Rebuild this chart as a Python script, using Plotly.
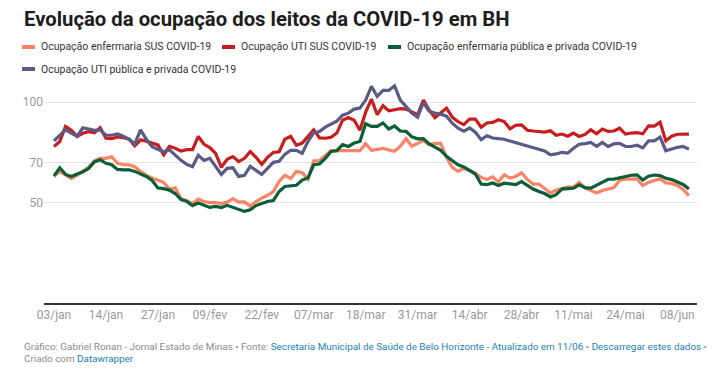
import plotly.graph_objects as go

tick_labels = ["03/jan", "14/jan", "27/jan", "09/fev", "22/fev", "07/mar", "18/mar",
               "31/mar", "14/abr", "28/abr", "11/mai", "24/mai", "08/jun"]

enf_sus = [63, 65.5, 63.8, 62, 63.5, 65.5, 67.5, 70.8, 72, 72,
           72.8, 69.5, 68.8, 68.8, 67.8, 65.5, 63.5, 62.2, 61, 60,
           56.7, 57.3, 52, 51, 49.5, 51.7, 50.5, 50, 50, 49.5,
           50.2, 51.9, 50.2, 50.3, 48.2, 50.5, 52.2, 53.6, 55.5, 60.5,
           63.6, 62, 65.5, 64.8, 61.7, 70.8, 70.9, 73.5, 75.8, 75.8,
           75.8, 75.8, 75.8, 75.8, 79.3, 76, 76.5, 77, 76.2, 75.5,
           78, 81.8, 78, 79.5, 80.8, 78.8, 79.5, 79.5, 72.5, 67.5,
           65.5, 67, 66, 64.5, 62.5, 61.5, 62.8, 60.3, 63.8, 62.2,
           63, 64.8, 61.5, 59.2, 59.2, 57, 54.7, 56.2, 57, 57.7,
           57.7, 60, 57.3, 56, 54.8, 56, 56.6, 57.5, 61, 61.7,
           61.7, 61.7, 58.5, 60, 61, 61.8, 59.8, 59.5, 58.5, 56.5,
           53.4]

uti_sus = [77.9, 80.4, 87.9, 86, 82.9, 84.5, 85.3, 84.7, 87.2, 82,
           81.8, 82.7, 82.3, 81.7, 78.2, 81.2, 80.5, 79.4, 78.7, 73.8,
           77.9, 77, 75.6, 76.3, 76.3, 82.9, 79, 77.4, 74.5, 67.5,
           71.5, 72.9, 70.4, 72, 75.4, 72.5, 69, 72.5, 74.9, 75.3,
           81.5, 83, 78.5, 79.6, 83, 86.2, 82.2, 82, 82.5, 84.6,
           91, 92.3, 91, 86, 95, 101.5, 93.7, 98.2, 95.7, 96.2,
           96.7, 96.5, 95, 93.7, 101, 96, 92.2, 94.5, 97, 92.5,
           90.3, 88.8, 91.5, 91.5, 87.5, 89.6, 89.9, 91.2, 90.3, 86.7,
           88.5, 88.7, 86, 85.6, 85.4, 85.1, 85.7, 83.5, 84.1, 83,
           84.6, 82.9, 83.9, 86.2, 84.2, 86.6, 85.4, 85.6, 87, 84.1,
           84.6, 84.8, 84.2, 88.2, 88, 89.9, 80.7, 83, 84, 84.2,
           84.1]

enf_total = [63.3, 67.3, 64, 63, 64.2, 65.3, 67, 70.2, 71.3, 69.5,
             68.8, 66.5, 66.3, 66.3, 65.5, 64.2, 63, 61, 57.3, 56.9,
             56.2, 54.5, 51.5, 50.6, 48.5, 49.8, 48.5, 47.6, 48.1, 47.5,
             48.6, 47.5, 46.4, 45.6, 46.4, 48.5, 49.5, 50.5, 51, 55.5,
             58, 58.2, 58.6, 61.2, 62.2, 68.8, 69.2, 72, 75.4, 75.8,
             78.8, 77.9, 79.6, 80.4, 89.2, 87.9, 87.9, 89.6, 86.6, 88.1,
             85.6, 85.4, 82.7, 81.7, 81.8, 79.2, 77.5, 76, 73, 70.8,
             68.8, 67.7, 66, 64.2, 59.2, 58.9, 59.7, 58.5, 59.6, 59.2,
             58.9, 60.4, 58.5, 56.7, 55.5, 54.5, 52.8, 53.9, 56.7, 56.9,
             57.2, 58.8, 57.4, 57.2, 58.7, 60.1, 61.6, 61.7, 62.4, 63.3,
             63.6, 63.8, 61.2, 63.1, 63.7, 63.4, 62.1, 61.4, 60.2, 59,
             56.7]

uti_total = [80.7, 83.5, 86.2, 84.5, 82.9, 87.2, 86.5, 85.9, 86.2, 83.5,
             83.5, 84.2, 83, 81.5, 79.2, 86.2, 81.5, 77.8, 76.5, 75.3,
             76.2, 73.5, 71, 69, 67.8, 73.5, 71, 72, 68, 64,
             67, 67.3, 63, 63.5, 68, 66, 64, 67, 70, 70.5,
             74, 76, 76, 74.5, 80.4, 84.7, 85.3, 87.5, 89, 90.5,
             93.5, 94.5, 96.5, 97, 101, 107.8, 102.8, 105.8, 105.8, 108.1,
             101, 97.5, 94.5, 92.5, 99.8, 95.5, 94.5, 94, 93, 89.5,
             87, 85.5, 87.1, 85, 81.3, 83.2, 82.1, 81.8, 81.5, 80.6,
             79.8, 79, 78, 77.1, 76.5, 75.7, 73.8, 74.2, 75, 74.6,
             77, 79, 79.3, 79.9, 78, 79.9, 77.9, 79.2, 79.5, 77.9,
             77.9, 78.5, 77.2, 80.7, 80.7, 82.6, 75.8, 76.8, 77.5, 77.9,
             76.6]

series_names = ["Ocupação enfermaria SUS COVID-19", "Ocupação UTI SUS COVID-19",
                "Ocupação enfermaria pública e privada COVID-19",
                "Ocupação UTI pública e privada COVID-19"]
series_values = [enf_sus, uti_sus, enf_total, uti_total]
colors = ["#fc8466", "#c71e1d", "#0b5e35", "#595a85"]

y_ticks = [50, 70, 100]
step = 9  # rows between labelled ticks
x = list(range(len(enf_sus)))

W, H = 720, 371
ML, MR, MT, MB = 44, 23, 82, 68
PW, PH = W - ML - MR, H - MT - MB


def px(xp):
    return (xp - ML) / PW


def py(yp):
    return (H - MB - yp) / PH


font_family = "Roboto, 'Liberation Sans', sans-serif"

fig = go.Figure()
for name, vals, col in zip(series_names, series_values, colors):
    fig.add_trace(go.Scatter(x=x, y=vals, mode="lines", name=name,
                             line=dict(color=col, width=3.2, shape="linear")))

fig.update_layout(
    width=W, height=H,
    margin=dict(l=ML, r=MR, t=MT, b=MB, autoexpand=False),
    paper_bgcolor="white", plot_bgcolor="white",
    font=dict(family=font_family, color="#333333"),
    showlegend=False,
)

fig.update_xaxes(
    range=[-1.73, 111.4],
    tickmode="array",
    tickvals=[i * step for i in range(len(tick_labels))],
    ticktext=tick_labels,
    showgrid=False, zeroline=False,
    showline=True, linecolor="#333333", linewidth=2,
    ticks="", tickfont=dict(size=12, color="#999999"),
)
fig.update_yaxes(
    range=[0, 110],
    tickmode="array", tickvals=y_ticks,
    showgrid=True, gridcolor="#e4e4e4", gridwidth=1,
    zeroline=False, showline=False, ticks="",
    tickfont=dict(size=12, color="#999999"),
)

# title
fig.add_annotation(text="<b>Evolução da ocupação dos leitos da COVID-19 em BH</b>",
                   xref="paper", yref="paper", x=px(22), xanchor="left",
                   y=py(19), yanchor="middle", showarrow=False,
                   font=dict(size=20.3, color="#1d1d1d", family=font_family))

# legend (manual, to reproduce the wrapped layout)
legend_pos = [(22, 47), (222, 47), (388, 47), (22, 69)]
for name, col, (lx, ly) in zip(series_names, colors, legend_pos):
    fig.add_shape(type="line", xref="paper", yref="paper",
                  x0=px(lx), x1=px(lx + 13), y0=py(ly), y1=py(ly),
                  line=dict(color=col, width=4))
    fig.add_annotation(text=name, xref="paper", yref="paper",
                       x=px(lx + 17), xanchor="left", y=py(ly), yanchor="middle",
                       showarrow=False,
                       font=dict(size=10.5, color="#333333", family=font_family))

link = "#1d81b8"
footer1 = ("Gráfico: Gabriel Ronan - Jornal Estado de Minas • Fonte: "
           f"<span style='color:{link}'>Secretaria Municipal de Saúde de Belo Horizonte - Atualizado em 11/06</span>"
           f" • <span style='color:{link}'>Descarregar estes dados</span> •")
footer2 = f"Criado com <span style='color:{link}'>Datawrapper</span>"
for txt, yy in [(footer1, 346), (footer2, 358)]:
    fig.add_annotation(text=txt, xref="paper", yref="paper",
                       x=px(22), xanchor="left", y=py(yy), yanchor="middle",
                       showarrow=False, align="left",
                       font=dict(size=9.9, color="#8a8a8a", family=font_family))

fig.write_html("out.html", config={"displayModeBar": False},
               post_script="document.body.style.margin='0px';")
